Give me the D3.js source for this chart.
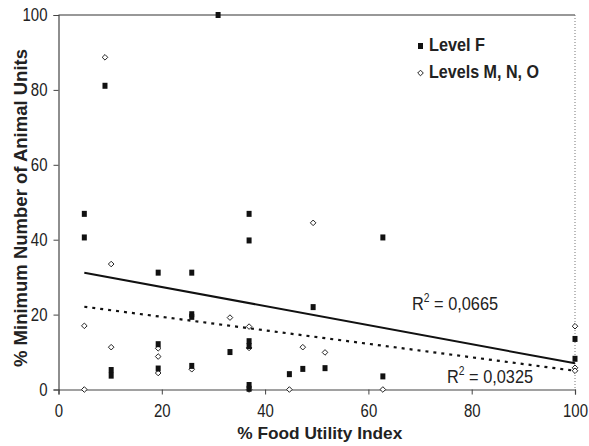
<!DOCTYPE html>
<html>
<head>
<meta charset="utf-8">
<script src="https://cdn.jsdelivr.net/npm/d3@7"></script>
<style>
  html, body { margin: 0; padding: 0; background: #fff; }
  svg { display: block; }
  .tick text { font-family: "Liberation Sans", Arial, sans-serif; }
</style>
</head>
<body>
<svg id="chart" width="589" height="446"></svg>
<script>
// Level F samples: [food utility index %, minimum animal units %]
const levelF = [
  [5, 46.9], [5, 40.6], [9, 81.1], [10.2, 5.2], [10.2, 3.7],
  [19.3, 31.2], [19.3, 12.1], [19.3, 5.6],
  [25.8, 31.2], [25.8, 20.1], [25.8, 19.4], [25.8, 6.3],
  [30.9, 100], [33.2, 10.0],
  [36.9, 46.9], [36.9, 39.8], [36.9, 12.9], [36.9, 11.6], [36.9, 1.2], [36.9, 0.2],
  [44.7, 4.1], [47.3, 5.5], [49.3, 22.0], [51.6, 5.7],
  [62.8, 40.6], [62.8, 3.5],
  [100, 13.5], [100, 8.2]
];

// Levels M, N, O samples
const levelsMNO = [
  [5, 17.0], [5, 0], [9, 88.7], [10.2, 33.5], [10.2, 11.3],
  [19.3, 11.0], [19.3, 8.8], [19.3, 4.4], [25.8, 5.4],
  [33.2, 19.2], [36.9, 16.8], [36.9, 11.1], [36.9, 0],
  [44.7, 0], [47.3, 11.3], [49.3, 44.5], [51.6, 9.9], [62.8, 0],
  [100, 16.9], [100, 5.8], [100, 5.0]
];

// Linear trend lines: [slope, intercept, x start, x end]
const trendF = [-0.2547, 32.47, 5, 100];
const trendMNO = [-0.18, 23.0, 5, 100];
const r2Labels = ["0,0665", "0,0325"];

const xTicks = [0, 20, 40, 60, 80, 100];
const yTicks = [0, 20, 40, 60, 80, 100];

const legendNames = ["Level F", "Levels M, N, O"];

const svg = d3.select("#chart");
const mLeft = 58.5, mRight = 575, mTop = 15, mBottom = 389.5;

const x = d3.scaleLinear().domain([0, 100]).range([mLeft, mRight]);
const y = d3.scaleLinear().domain([0, 100]).range([mBottom, mTop]);

// squeeze a text horizontally (narrow typeface look)
function narrow(sel, factor) {
  sel.each(function () {
    const w = this.getComputedTextLength();
    d3.select(this).attr("textLength", w * factor).attr("lengthAdjust", "spacingAndGlyphs");
  });
}

svg.append("rect").attr("width", 589).attr("height", 446).attr("fill", "#fff");

// frame: solid top, dotted right
svg.append("line").attr("x1", mLeft).attr("x2", mRight).attr("y1", mTop).attr("y2", mTop)
  .attr("stroke", "#333").attr("stroke-width", 1.2);
svg.append("line").attr("x1", mRight).attr("x2", mRight).attr("y1", mTop).attr("y2", mBottom)
  .attr("stroke", "#777").attr("stroke-width", 1).attr("stroke-dasharray", "1,2");

// axes
const xAxis = svg.append("g").attr("transform", `translate(0,${mBottom})`)
  .call(d3.axisBottom(x).tickValues(xTicks).tickSize(5).tickPadding(10).tickFormat(d3.format("d")));
const yAxis = svg.append("g").attr("transform", `translate(${mLeft},0)`)
  .call(d3.axisLeft(y).tickValues(yTicks).tickSize(5).tickPadding(6).tickFormat(d3.format("d")));
[xAxis, yAxis].forEach(g => {
  g.select(".domain").attr("stroke", "#444").attr("stroke-width", 1.2);
  g.selectAll(".tick line").attr("stroke", "#444");
  g.selectAll(".tick text").attr("font-size", 18).attr("fill", "#222").call(narrow, 0.83);
});

// axis titles
svg.append("text").attr("x", (mLeft + mRight) / 2 + 3).attr("y", 439)
  .attr("text-anchor", "middle").attr("font-family", "Liberation Sans, Arial, sans-serif")
  .attr("font-weight", "bold").attr("font-size", 17).attr("fill", "#222")
  .text("% Food Utility Index")
  .attr("textLength", 165).attr("lengthAdjust", "spacingAndGlyphs");
svg.append("text").attr("transform", "translate(27,208) rotate(-90)")
  .attr("text-anchor", "middle").attr("font-family", "Liberation Sans, Arial, sans-serif")
  .attr("font-weight", "bold").attr("font-size", 18).attr("fill", "#222")
  .text("% Minimum Number of Animal Units")
  .attr("textLength", 318).attr("lengthAdjust", "spacingAndGlyphs");

// trend lines
function trendPoints(t) {
  return [t[2], t[3]].map(v => [x(v), y(t[0] * v + t[1])]);
}
const line = d3.line();
svg.append("path").attr("d", line(trendPoints(trendF)))
  .attr("stroke", "#111").attr("stroke-width", 2).attr("fill", "none");
svg.append("path").attr("d", line(trendPoints(trendMNO)))
  .attr("stroke", "#111").attr("stroke-width", 2.2).attr("fill", "none")
  .attr("stroke-dasharray", "3,5");

// markers
const diamond = (cx, cy, r) => `M${cx},${cy - r}L${cx + r},${cy}L${cx},${cy + r}L${cx - r},${cy}Z`;

svg.append("g").selectAll("path").data(levelsMNO).join("path")
  .attr("d", d => diamond(x(d[0]), y(d[1]), 2.8))
  .attr("fill", "#fff").attr("stroke", "#222").attr("stroke-width", 1);

svg.append("g").selectAll("rect").data(levelF).join("rect")
  .attr("x", d => x(d[0]) - 2.5).attr("y", d => y(d[1]) - 3)
  .attr("width", 5).attr("height", 6).attr("fill", "#111");

// R² labels, drawn in a horizontally condensed group
function r2Label(tx, ty, val) {
  const t = svg.append("g").attr("transform", `translate(${tx},${ty}) scale(0.86,1)`)
    .append("text")
    .attr("font-family", "Liberation Sans, Arial, sans-serif")
    .attr("font-size", 19).attr("fill", "#222");
  t.append("tspan").text("R");
  t.append("tspan").attr("dy", -8).attr("font-size", 12).text("2");
  t.append("tspan").attr("dy", 8).text(" = " + val);
}
r2Label(412, 310, r2Labels[0]);
r2Label(447, 383, r2Labels[1]);

// legend
const lg = svg.append("g").attr("font-family", "Liberation Sans, Arial, sans-serif")
  .attr("font-weight", "bold").attr("font-size", 18).attr("fill", "#222");
lg.append("rect").attr("x", 418).attr("y", 43).attr("width", 5).attr("height", 6).attr("fill", "#111");
lg.append("text").attr("x", 429).attr("y", 51).text(legendNames[0])
  .attr("textLength", 56).attr("lengthAdjust", "spacingAndGlyphs");
lg.append("path").attr("d", diamond(420.5, 73, 2.8)).attr("fill", "#fff").attr("stroke", "#222");
lg.append("text").attr("x", 429).attr("y", 78).text(legendNames[1])
  .attr("textLength", 110).attr("lengthAdjust", "spacingAndGlyphs");
</script>
</body>
</html>
